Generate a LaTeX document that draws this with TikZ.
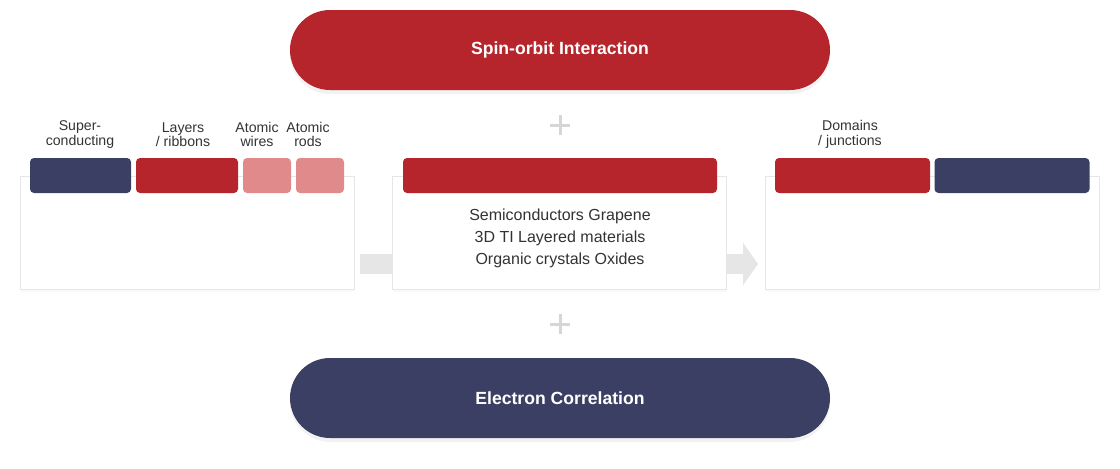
\documentclass[tikz,border=0pt]{standalone}
\usepackage{fontspec}
\setmainfont{Liberation Sans}
\usetikzlibrary{arrows.meta,shadows}
\definecolor{sred}{HTML}{B5252B}
\definecolor{snavy}{HTML}{3C3F64}
\definecolor{spink}{HTML}{E08A8C}
\definecolor{sgray}{HTML}{E6E6E6}
\definecolor{sedge}{HTML}{E6E6E6}
\definecolor{stext}{HTML}{333333}
\definecolor{splus}{HTML}{D6D6D6}
\tikzset{
  pill/.style={rounded corners=30pt, minimum width=405pt, minimum height=60pt, inner sep=0pt,
    text=white, font=\fontsize{13.2}{15}\selectfont\bfseries,
    drop shadow={opacity=0.10, shadow xshift=0pt, shadow yshift=-3pt}},
  panel/.style={draw=sedge, line width=0.6pt, fill=white, minimum width=250.5pt, minimum height=84.75pt, inner sep=0pt,
    drop shadow={opacity=0.05, shadow xshift=0pt, shadow yshift=-2pt}},
  tab/.style={rounded corners=3pt, minimum height=26.25pt, inner sep=0pt},
  lbl/.style={align=center, text=stext, font=\fontsize{10.6}{10.8}\selectfont},
  body/.style={align=center, text=stext, font=\fontsize{12}{16.5}\selectfont},
  flow/.style={sgray, line width=15pt, -{Triangle[length=11.25pt, width=31.5pt]}},
  plus/.style={splus, line width=2.25pt}
}
\begin{document}
\begin{tikzpicture}[x=0.75pt,y=-0.75pt]
\useasboundingbox (0,0) rectangle (1120,468);
% pills
\node[pill, fill=sred] (soi) at (560,50) {Spin-orbit Interaction};
\node[pill, fill=snavy] (ec) at (560,398) {Electron Correlation};
% flow arrow behind boxes
\coordinate (fs) at (360,264);
\coordinate (fe) at (758,264);
% panels
\node[panel] (lb) at (187,232.5) {};
\node[panel] (rb) at (932.5,232.5) {};
\draw[flow] (fs) -- (fe);
\node[panel] (mb) at (559.5,232.5) {};
% left tabs
\node[tab, fill=snavy, minimum width=75.75pt] (t1) at (80.5,175.5) {};
\node[tab, fill=sred, minimum width=76.5pt] (t2) at (187,175.5) {};
\node[tab, fill=spink, minimum width=36pt] (t3) at (267,175.5) {};
\node[tab, fill=spink, minimum width=36pt] (t4) at (320,175.5) {};
\node[lbl] (l1) at (80,134.5) {Super-\\conducting};
\node[lbl] (l2) at (183,134.5) {Layers\\/ ribbons};
\node[lbl] (l3) at (257,134.5) {Atomic\\wires};
\node[lbl] (l4) at (308,134.5) {Atomic\\rods};
% middle
\node[tab, fill=sred, minimum width=235.5pt] (t5) at (560,175.5) {};
\node[body] (mt) at (560,238) {Semiconductors Grapene\\3D TI Layered materials\\Organic crystals Oxides};
% right tabs
\node[tab, fill=sred, minimum width=116.25pt] (t6) at (852.5,175.5) {};
\node[tab, fill=snavy, minimum width=116.25pt] (t7) at (1012,175.5) {};
\node[lbl] (l5) at (850,134.5) {Domains\\/ junctions};
% plus signs
\draw[plus] (550,125) -- (570,125) (560,115) -- (560,135);
\draw[plus] (550,324) -- (570,324) (560,314) -- (560,334);
\end{tikzpicture}
\end{document}
